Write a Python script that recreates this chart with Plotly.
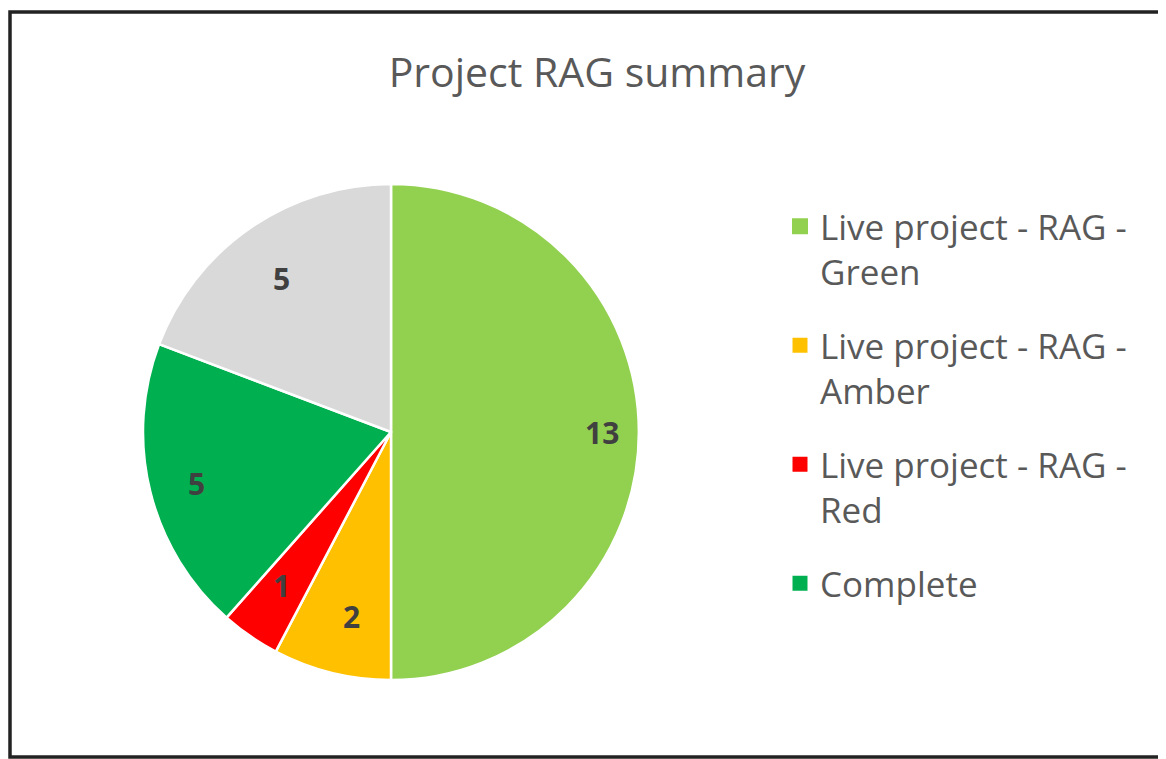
import numpy as np
import plotly.graph_objects as go

# Data
labels = ["Live project - RAG - Green", "Live project - RAG - Amber",
          "Live project - RAG - Red", "Complete", "Other"]
legend_text = ["Live project - RAG -<br>Green", "Live project - RAG -<br>Amber",
               "Live project - RAG -<br>Red", "Complete"]
values = [13, 2, 1, 5, 5]
colors = ["#92D050", "#FFC000", "#FF0000", "#00B050", "#D9D9D9"]

off = 8  # page body margin
W, H = 1166 - off, 759 - off
cx, cy, r = 391 - off, 432 - off, 248

fig = go.Figure()
fig.add_trace(go.Pie(
    labels=labels, values=values, sort=False, direction="clockwise", rotation=0,
    marker=dict(colors=colors, line=dict(color="white", width=2.5)),
    textinfo="none",
    domain=dict(x=[(cx - r) / W, (cx + r) / W], y=[1 - (cy + r) / H, 1 - (cy - r) / H]),
    showlegend=False, hoverinfo="label+value",
))

# data labels placed like Excel's, near the rim on each slice's mid angle
vals = np.array(values, dtype=float)
mid = (np.cumsum(vals) - vals / 2) / vals.sum() * 2 * np.pi
for v, a in zip(values, mid):
    fig.add_annotation(x=(cx + 0.85 * r * np.sin(a)) / W, y=1 - (cy - 0.86 * r * np.cos(a)) / H,
                       xref="paper", yref="paper", text=str(v), showarrow=False,
                       font=dict(family="Open Sans", size=30, color="#404040", weight="bold"))

# legend entries (grey slice has none in the original)
sizes = [24, 15, 15, 15]
for i, (name, col, s) in enumerate(zip(legend_text, colors[:4], sizes)):
    fig.add_trace(go.Scatter(x=[None], y=[None], mode="markers", name=name,
                             legendgroup=str(i),
                             marker=dict(symbol="square", size=s, color=col)))

# chart frame: left, top and bottom edges (right side is cut off in the original)
fl, ft, fb, fr = 10 - off, 12 - off, 757 - off, W + 20
frame = f"M {fr},{ft} L {fl},{ft} L {fl},{fb} L {fr},{fb}"

fig.update_layout(
    width=W, height=H, margin=dict(l=0, r=0, t=0, b=0),
    paper_bgcolor="white", plot_bgcolor="white",
    title=dict(text="Project RAG summary", x=(597 - off) / W, xanchor="center",
               y=1 - (73 - off) / H, yanchor="middle",
               font=dict(family="Open Sans", size=41, color="#595959")),
    xaxis=dict(visible=False, range=[0, W]), yaxis=dict(visible=False, range=[H, 0]),
    legend=dict(x=(780 - off) / W, y=1 - (197 - off) / H, xanchor="left", yanchor="top",
                font=dict(family="Open Sans", size=35, color="#595959"),
                itemsizing="trace", valign="top", tracegroupgap=25),
    shapes=[dict(type="path", xref="x", yref="y", path=frame,
                 line=dict(color="#222222", width=3.5), layer="above")],
)

fig.write_html("out.html")
